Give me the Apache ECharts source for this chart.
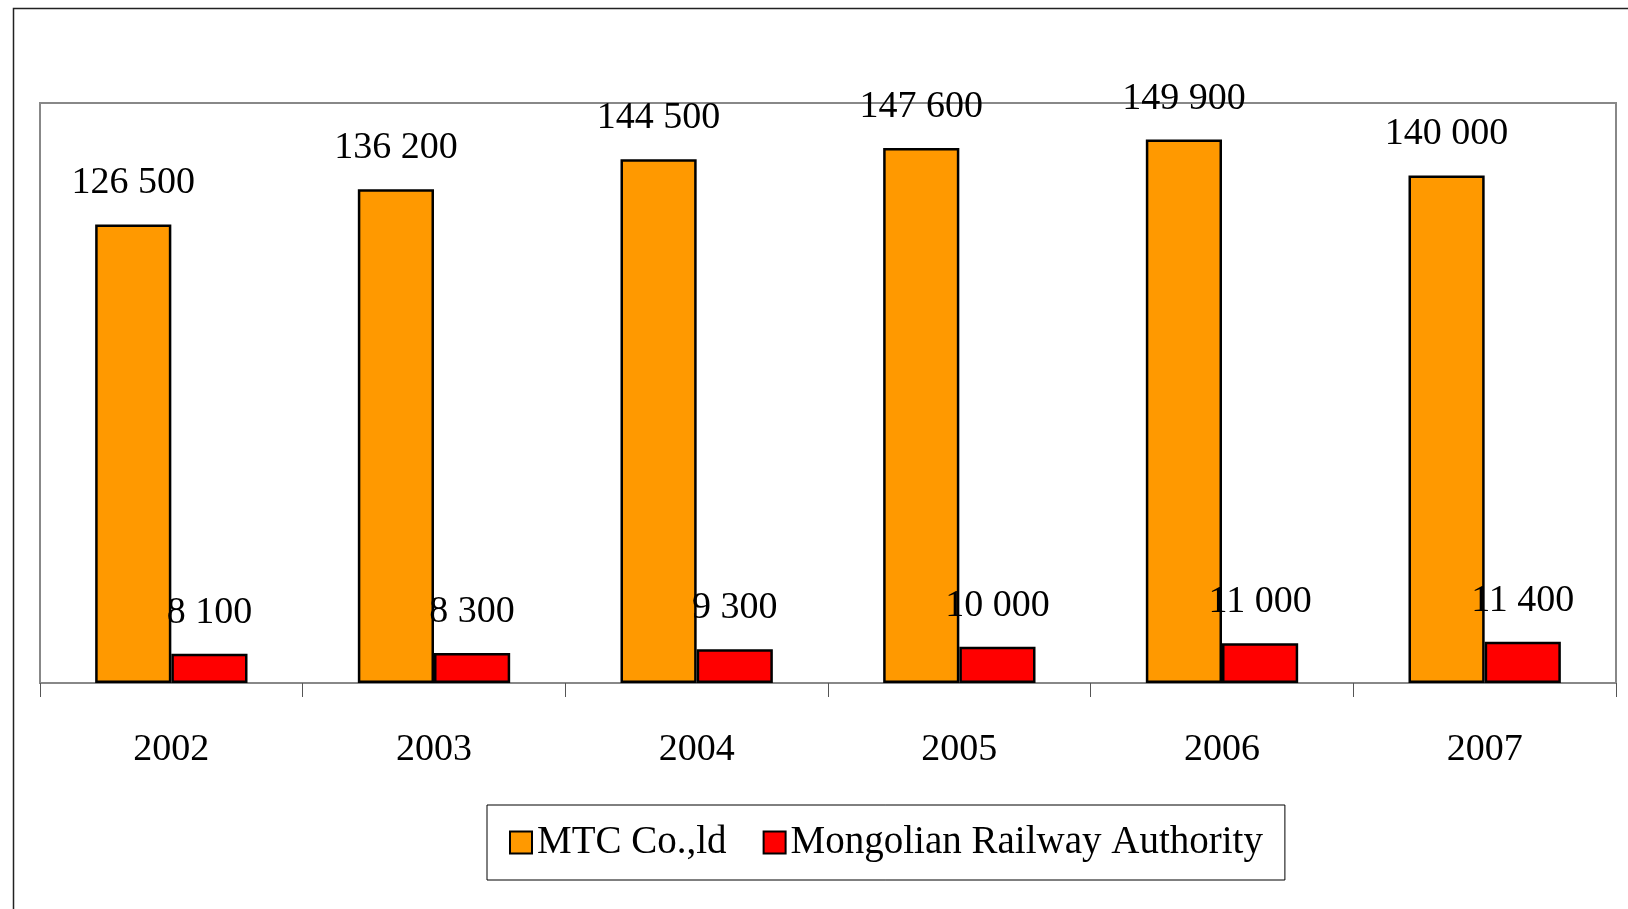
<!DOCTYPE html>
<html>
<head>
<meta charset="utf-8">
<title>MTC Co.,ld vs Mongolian Railway Authority</title>
<script src="https://cdn.jsdelivr.net/npm/echarts@6/dist/echarts.min.js"></script>
<style>
    html, body { margin: 0; padding: 0; background: #fff; }
    .box { width: 1628px; height: 909px; }
</style>
</head>
<body>
<div class="box"></div>
<script>
// data
var years = ["2002", "2003", "2004", "2005", "2006", "2007"];
var mtcValues = [126500, 136200, 144500, 147600, 149900, 140000];
var railwayValues = [8100, 8300, 9300, 10000, 11000, 11400];
var seriesNames = ["MTC Co.,ld", "Mongolian Railway Authority"];

(function () {
    var myChart = echarts.init(document.querySelector(".box"));

    var font = "'Liberation Serif', 'Times New Roman', serif";

    // 126500 -> "126 500"
    function spaced(v) {
        return String(v).replace(/\B(?=(\d{3})+(?!\d))/g, " ");
    }

    var barLabel = {
        show: true,
        position: "top",
        distance: 22,
        color: "#000",
        fontFamily: font,
        fontSize: 38,
        formatter: function (p) { return spaced(p.value); }
    };

    var option = {
        animation: false,
        backgroundColor: "#fff",
        // outer frame, only left and top edges are visible in the picture
        graphic: [{
            type: "rect",
            left: 11,
            top: 6,
            shape: { width: 1700, height: 1000 },
            style: { fill: "none", stroke: "#222", lineWidth: 1.5 },
            silent: true
        }],
        grid: {
            left: 40,
            right: 12,
            top: 103,
            bottom: 226,
            show: true,
            borderColor: "#888",
            borderWidth: 2
        },
        legend: {
            left: 487,
            top: 805,
            orient: "horizontal",
            padding: [18, 22, 18, 22],
            itemGap: 36,
            itemWidth: 22,
            itemHeight: 22,
            icon: "rect",
            borderColor: "#000",
            borderWidth: 1,
            data: seriesNames,
            textStyle: {
                color: "#000",
                fontFamily: font,
                fontSize: 39
            }
        },
        xAxis: {
            type: "category",
            data: years,
            axisLine: { lineStyle: { color: "#888", width: 2 } },
            axisTick: { show: true, length: 14, lineStyle: { color: "#555", width: 1 } },
            axisLabel: {
                color: "#000",
                fontFamily: font,
                fontSize: 38,
                margin: 48
            }
        },
        yAxis: {
            type: "value",
            min: 0,
            max: 160000,
            show: false,
            splitLine: { show: false }
        },
        series: [
            {
                name: seriesNames[0],
                type: "bar",
                data: mtcValues,
                barGap: "0%",
                barCategoryGap: "42%",
                itemStyle: { color: "#ff9900", borderColor: "#000", borderWidth: 2.5 },
                label: barLabel
            },
            {
                name: seriesNames[1],
                type: "bar",
                data: railwayValues,
                barGap: "0%",
                barCategoryGap: "42%",
                itemStyle: { color: "#ff0000", borderColor: "#000", borderWidth: 2.5 },
                label: barLabel
            }
        ]
    };

    myChart.setOption(option);

    window.addEventListener("resize", function () {
        myChart.resize();
    });
})();
</script>
</body>
</html>
